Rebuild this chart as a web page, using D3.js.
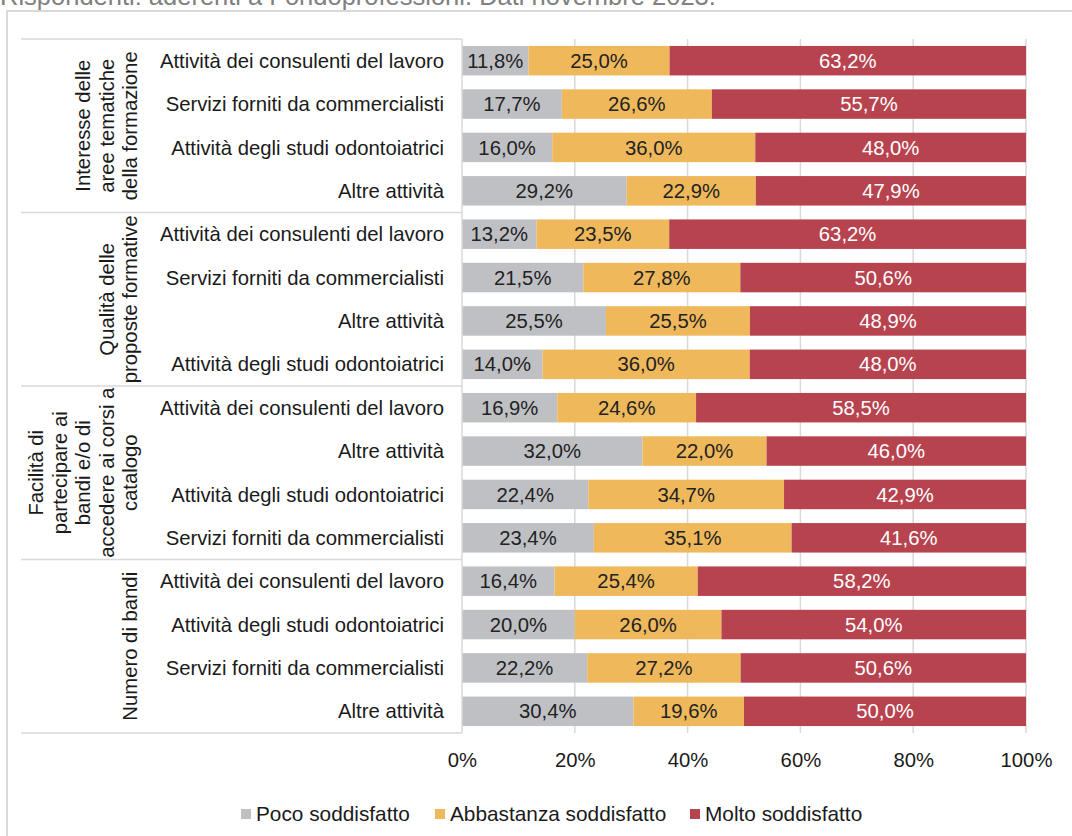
<!DOCTYPE html>
<html lang="it">
<head>
<meta charset="utf-8">
<script src="https://cdn.jsdelivr.net/npm/d3@7"></script>
<style>
  html, body { margin: 0; padding: 0; background: #fff; }
  svg { display: block; font-family: "Liberation Sans", Arial, Helvetica, sans-serif; }
</style>
</head>
<body>
<svg id="chart" width="1072" height="836"></svg>
<script>
// Soddisfazione per area e attività (percentuali per riga)
const groupLines = [
  ["Interesse delle", "aree tematiche", "della formazione"],
  ["Qualità delle", "proposte formative"],
  ["Facilità di", "partecipare ai", "bandi e/o di", "accedere ai corsi a", "catalogo"],
  ["Numero di bandi"]
];
const categories = [
  "Attività dei consulenti del lavoro", "Servizi forniti da commercialisti", "Attività degli studi odontoiatrici", "Altre attività",
  "Attività dei consulenti del lavoro", "Servizi forniti da commercialisti", "Altre attività", "Attività degli studi odontoiatrici",
  "Attività dei consulenti del lavoro", "Altre attività", "Attività degli studi odontoiatrici", "Servizi forniti da commercialisti",
  "Attività dei consulenti del lavoro", "Attività degli studi odontoiatrici", "Servizi forniti da commercialisti", "Altre attività"
];
const groupOf = [0,0,0,0, 1,1,1,1, 2,2,2,2, 3,3,3,3];
const poco        = [11.8, 17.7, 16.0, 29.2, 13.2, 21.5, 25.5, 14.0, 16.9, 32.0, 22.4, 23.4, 16.4, 20.0, 22.2, 30.4];
const abbastanza  = [25.0, 26.6, 36.0, 22.9, 23.5, 27.8, 25.5, 36.0, 24.6, 22.0, 34.7, 35.1, 25.4, 26.0, 27.2, 19.6];
const molto       = [63.2, 55.7, 48.0, 47.9, 63.2, 50.6, 48.9, 48.0, 58.5, 46.0, 42.9, 41.6, 58.2, 54.0, 50.6, 50.0];
const seriesNames = ["Poco soddisfatto", "Abbastanza soddisfatto", "Molto soddisfatto"];
const tickValues  = [0, 0.2, 0.4, 0.6, 0.8, 1];
const subtitle    = "Rispondenti: aderenti a Fondoprofessioni. Dati novembre 2023.";

const colors = ["#bfc0c4", "#eeb85b", "#b7434f"];
const labelColors = ["#222", "#222", "#fff"];
const lineColor = "#d9d9d9";

const svg = d3.select("#chart");
const fontSize = 20.3;

// Subtitle (partly above the top edge)
svg.append("text")
  .attr("x", 0).attr("y", 5)
  .attr("fill", "#808080")
  .attr("font-size", 25.5)
  .text(subtitle);

// Outer frame
svg.append("rect")
  .attr("x", 7).attr("y", 11)
  .attr("width", 1100).attr("height", 900)
  .attr("fill", "none")
  .attr("stroke", lineColor)
  .attr("stroke-width", 2);

const rows = categories.map((c, i) => ({
  idx: i, label: c, group: groupOf[i],
  [seriesNames[0]]: poco[i], [seriesNames[1]]: abbastanza[i], [seriesNames[2]]: molto[i]
}));

const plotTop = 39, plotBottom = 733, xLeft = 462, xRight = 1026;

const x = d3.scaleLinear().domain([0, 1]).range([xLeft, xRight]);
const y = d3.scaleBand()
  .domain(rows.map(d => d.idx))
  .range([plotTop, plotBottom])
  .paddingInner(0.32)
  .paddingOuter(0.16);

// Vertical gridlines
svg.append("g")
  .selectAll("line")
  .data(tickValues.slice(1))
  .join("line")
  .attr("x1", d => x(d)).attr("x2", d => x(d))
  .attr("y1", plotTop).attr("y2", plotBottom)
  .attr("stroke", lineColor)
  .attr("stroke-width", 1.5);

// Stacked, normalised bars
const stack = d3.stack().keys(seriesNames).offset(d3.stackOffsetExpand);
const series = stack(rows);

const it = d3.formatLocale({ decimal: ",", thousands: ".", grouping: [3], currency: ["€", ""] });
const fmt = it.format(".1f");

const layers = svg.append("g")
  .selectAll("g")
  .data(series)
  .join("g")
  .attr("fill", (s, i) => colors[i]);

layers.selectAll("rect")
  .data(s => s)
  .join("rect")
  .attr("x", d => x(d[0]))
  .attr("y", d => y(d.data.idx))
  .attr("width", d => x(d[1]) - x(d[0]))
  .attr("height", y.bandwidth());

const labelLayers = svg.append("g")
  .selectAll("g")
  .data(series)
  .join("g")
  .attr("fill", (s, i) => labelColors[i]);

labelLayers.selectAll("text")
  .data(s => s.map(d => ({ d, key: s.key })))
  .join("text")
  .attr("x", ({ d }) => (x(d[0]) + x(d[1])) / 2)
  .attr("y", ({ d }) => y(d.data.idx) + y.bandwidth() / 2)
  .attr("dy", "0.35em")
  .attr("text-anchor", "middle")
  .attr("font-size", fontSize)
  .text(({ d, key }) => fmt(d.data[key]) + "%");

// Category axis frame (left)
svg.append("line")
  .attr("x1", xLeft).attr("x2", xLeft)
  .attr("y1", plotTop).attr("y2", plotBottom)
  .attr("stroke", lineColor).attr("stroke-width", 1.5);

const groupBounds = groupLines.map((g, gi) => {
  const idxs = rows.filter(r => r.group === gi).map(r => r.idx);
  return { gi, top: y(idxs[0]) - y.step() * y.paddingInner() / 2, bottom: y(idxs[idxs.length - 1]) + y.bandwidth() + y.step() * y.paddingInner() / 2 };
});

const sepYs = [plotTop, ...groupBounds.map(b => b.bottom)];
svg.append("g")
  .selectAll("line")
  .data(sepYs)
  .join("line")
  .attr("x1", 21).attr("x2", xLeft)
  .attr("y1", d => d).attr("y2", d => d)
  .attr("stroke", lineColor).attr("stroke-width", 1.5);

// Row labels
svg.append("g")
  .selectAll("text")
  .data(rows)
  .join("text")
  .attr("x", 444)
  .attr("y", d => y(d.idx) + y.bandwidth() / 2)
  .attr("dy", "0.35em")
  .attr("text-anchor", "end")
  .attr("fill", "#1a1a1a")
  .attr("font-size", fontSize)
  .text(d => d.label);

// Group labels (rotated, block aligned towards the row labels)
const lineStep = 23.5, lastBaseline = 137;
groupBounds.forEach(b => {
  const lines = groupLines[b.gi];
  const cy = (b.top + b.bottom) / 2;
  lines.forEach((t, li) => {
    const bx = lastBaseline - (lines.length - 1 - li) * lineStep;
    svg.append("text")
      .attr("transform", `translate(${bx},${cy}) rotate(-90)`)
      .attr("text-anchor", "middle")
      .attr("fill", "#1a1a1a")
      .attr("font-size", fontSize)
      .text(t);
  });
});

// Percent axis
const xAxis = d3.axisBottom(x)
  .tickValues(tickValues)
  .tickFormat(d3.format(".0%"))
  .tickSize(0)
  .tickPadding(0);

const ax = svg.append("g")
  .attr("transform", `translate(0,${plotBottom})`)
  .call(xAxis);
ax.select(".domain").remove();
ax.selectAll("text")
  .attr("y", 34)
  .attr("dy", 0)
  .attr("fill", "#1a1a1a")
  .attr("font-size", fontSize)
  .attr("font-family", "Liberation Sans, Arial, sans-serif");

// Legend
const legendX = [241, 435, 690];
const legend = svg.append("g")
  .selectAll("g")
  .data(seriesNames)
  .join("g")
  .attr("transform", (d, i) => `translate(${legendX[i]},814)`);
legend.append("rect")
  .attr("x", 0).attr("y", -5)
  .attr("width", 10).attr("height", 10)
  .attr("fill", (d, i) => colors[i]);
legend.append("text")
  .attr("x", 15).attr("y", 0)
  .attr("dy", "0.35em")
  .attr("fill", "#1a1a1a")
  .attr("font-size", 20.8)
  .text(d => d);
</script>
</body>
</html>
